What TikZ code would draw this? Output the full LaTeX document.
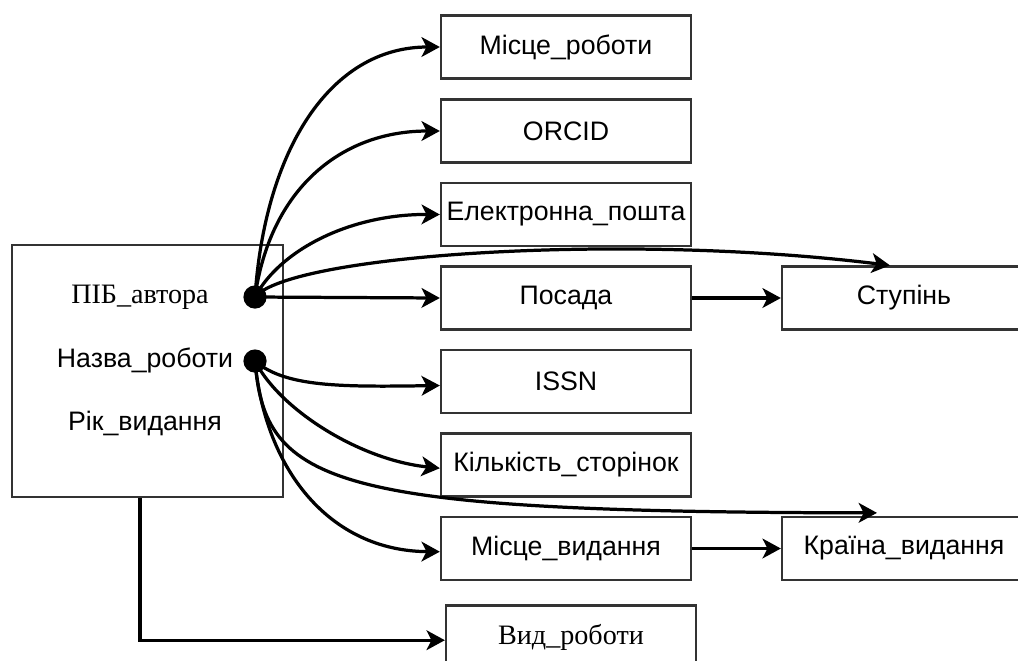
\documentclass[tikz,border=0pt]{standalone}
\usepackage{fontspec}
\setmainfont{Liberation Serif}
\setsansfont{Liberation Sans}
\usetikzlibrary{arrows.meta}
\definecolor{ramka}{HTML}{333333}

\begin{document}
\begin{tikzpicture}[x=0.025cm,y=-0.025cm,
	pole/.style={draw=ramka,line width=1.6pt,fill=white,minimum width=6.25cm,minimum height=1.575cm,
		inner sep=0pt,font=\sffamily\fontsize{19}{22}\selectfont},
	serif/.style={font=\rmfamily\fontsize{20}{24}\selectfont},
	punkt/.style={circle,fill=black,minimum size=0.58cm,inner sep=0pt},
	zv/.style={line width=2.3pt,-{Stealth[length=13pt,width=14pt,inset=3.5pt]}}
	]
	\useasboundingbox (0,0) rectangle (1018,660);
	% main entity
	\node[draw=ramka,line width=1.6pt,minimum width=6.775cm,minimum height=6.3cm] (rec) at (147.5,371) {};
	\node[serif] (pib) at (140,297) {ПІБ\_автора};
	\node[font=\sffamily\fontsize{19}{22}\selectfont] (naz) at (145,360) {Назва\_роботи};
	\node[font=\sffamily\fontsize{19}{22}\selectfont] (rik) at (145,423) {Рік\_видання};
	\node[punkt] (d1) at (255,297) {};
	\node[punkt] (d2) at (255,361) {};
	% attributes
	\node[pole] (mis) at (566,47) {Місце\_роботи};
	\node[pole] (orc) at (566,131) {ORCID};
	\node[pole] (ele) at (566,214.5) {Електронна\_пошта};
	\node[pole] (pos) at (566,298) {Посада};
	\node[pole] (iss) at (566,381.5) {ISSN};
	\node[pole] (kil) at (566,465) {Кількість\_сторінок};
	\node[pole] (mvy) at (566,548.5) {Місце\_видання};
	\node[pole,minimum width=6.1cm] (stu) at (904,298) {Ступінь};
	\node[pole,minimum width=6.1cm] (kra) at (904,548.5) {Країна\_видання};
	\node[pole,serif] (vyd) at (571,637) {Вид\_роботи};
	% links from ПІБ_автора
	\draw[zv] (d1.center) .. controls (265,150) and (330,47) .. (mis.west);
	\draw[zv] (d1.center) .. controls (270,190) and (340,131) .. (orc.west);
	\draw[zv] (d1.center) .. controls (280,250) and (350,214) .. (ele.west);
	\draw[zv] (d1.center) .. controls (290,255) and (620,232) .. ([xshift=-0.35cm]stu.north);
	\draw[zv] (d1.center) -- (pos.west);
	\draw[zv] (pos.east) -- (stu.west);
	% links from Назва_роботи
	\draw[zv] (d2.center) .. controls (285,387) and (340,387) .. ([yshift=-0.1cm]iss.west);
	\draw[zv] (d2.center) .. controls (280,410) and (360,460) .. ([yshift=-0.08cm]kil.west);
	\draw[zv] (d2.center) .. controls (265,485) and (330,512) .. ([xshift=-0.675cm,yshift=0.075cm]kra.north);
	\draw[zv] (d2.center) .. controls (265,470) and (330,551) .. ([yshift=-0.08cm]mvy.west);
	\draw[zv] (mvy.east) -- (kra.west);
	% type of work
	\draw[zv] ([xshift=-0.19cm]rec.south) |- ([yshift=-0.08cm]vyd.west);
\end{tikzpicture}
\end{document}
